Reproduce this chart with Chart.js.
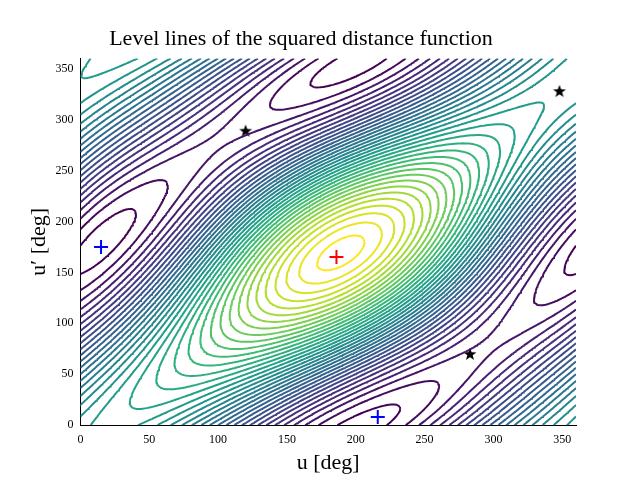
<!DOCTYPE html>
<html><head><meta charset="utf-8">
<script src="https://cdn.jsdelivr.net/npm/chart.js@4/dist/chart.umd.min.js"></script>
<style>body{margin:0;background:#fff}#wrap{width:640px;height:480px}</style>
</head><body><div id="wrap"><canvas id="c"></canvas></div>
<script>
// field parameters (ridge along u - u' = 20 deg, peak near (185,165),
// valleys around the blue crosses, saddles at the stars)
const fieldAmp = [1, 0.33, 0.33, 0.12];
const fieldPhase = [20, 185, 165, 10];
const levelCount = 36;
const maxPoint = [[186, 165]];
const minPoints = [[15, 175], [216, 8]];
const saddlePoints = [[120, 289], [283, 70], [348, 328]];
const xTicks = [0, 50, 100, 150, 200, 250, 300, 350];

const rad = Math.PI / 180;
function f(u, v) {
  return fieldAmp[0] * Math.cos((u - v - fieldPhase[0]) * rad) +
    fieldAmp[1] * Math.cos((u - fieldPhase[1]) * rad) +
    fieldAmp[2] * Math.cos((v - fieldPhase[2]) * rad) +
    fieldAmp[3] * Math.cos((u + v - fieldPhase[3]) * rad);
}
const viridis = [[68,1,84],[72,40,120],[62,74,137],[49,104,142],[38,130,142],[31,158,137],[53,183,121],[109,205,89],[180,222,44],[253,231,37]];
function vcol(t) {
  const p = t * (viridis.length - 1), i = Math.min(Math.floor(p), viridis.length - 2), r = p - i;
  const c = viridis[i].map((a, k) => Math.round(a + (viridis[i + 1][k] - a) * r));
  return `rgb(${c})`;
}
const N = 180, step = 360 / N;
const grid = [];
for (let i = 0; i <= N; i++) { grid.push([]); for (let j = 0; j <= N; j++) grid[i].push(f(i * step, j * step)); }
let lo = Infinity, hi = -Infinity;
grid.forEach(r => r.forEach(v => { lo = Math.min(lo, v); hi = Math.max(hi, v); }));
const gap = () => ({ x: NaN, y: NaN });
const datasets = [];
for (let l = 0; l < levelCount; l++) {
  const lev = lo + (hi - lo) * (l + 0.5) / levelCount;
  const pts = [];
  for (let i = 0; i < N; i++) for (let j = 0; j < N; j++) {
    const c = [[i, j], [i + 1, j], [i + 1, j + 1], [i, j + 1]];
    const cr = [];
    for (let k = 0; k < 4; k++) {
      const a = c[k], b = c[(k + 1) % 4];
      const va = grid[a[0]][a[1]] - lev, vb = grid[b[0]][b[1]] - lev;
      if ((va < 0) !== (vb < 0)) {
        const t = va / (va - vb);
        cr.push({ x: (a[0] + (b[0] - a[0]) * t) * step, y: (a[1] + (b[1] - a[1]) * t) * step });
      }
    }
    if (cr.length === 2) pts.push(cr[0], cr[1], gap());
    else if (cr.length === 4) pts.push(cr[0], cr[1], gap(), cr[2], cr[3], gap());
  }
  datasets.push({ data: pts, borderColor: vcol(l / (levelCount - 1)), borderWidth: 2, pointRadius: 0, spanGaps: false, tension: 0 });
}
const starImg = document.createElement('canvas');
starImg.width = starImg.height = 14;
{ const g = starImg.getContext('2d'); g.fillStyle = '#000'; g.beginPath();
  for (let k = 0; k < 10; k++) { const r = k % 2 ? 2.8 : 6.8, a = -Math.PI / 2 + k * Math.PI / 5; g.lineTo(7 + r * Math.cos(a), 7.5 + r * Math.sin(a)); }
  g.closePath(); g.fill(); }
const toPts = a => a.map(p => ({ x: p[0], y: p[1] }));
datasets.push({ data: toPts(maxPoint), showLine: false, pointStyle: 'cross', pointRadius: 7, borderColor: '#ff0000', borderWidth: 2 });
datasets.push({ data: toPts(minPoints), showLine: false, pointStyle: 'cross', pointRadius: 7, borderColor: '#0000ff', borderWidth: 2 });
datasets.push({ data: toPts(saddlePoints), showLine: false, pointStyle: starImg, pointRadius: 7 });

new Chart(document.getElementById('c'), {
  type: 'line',
  data: { datasets },
  options: {
    responsive: true, maintainAspectRatio: false, animation: false,
    layout: { padding: { left: 26, right: 64, top: 26, bottom: 4 } },
    plugins: {
      legend: { display: false }, tooltip: { enabled: false },
      title: { display: true, text: 'Level lines of the squared distance function', color: '#000', font: { family: 'Liberation Serif', size: 22, weight: 'normal' }, padding: { bottom: 6 } }
    },
    scales: {
      x: { type: 'linear', min: 0, max: 360, grid: { display: false, drawTicks: true, tickLength: 4 }, border: { color: '#000' },
        afterBuildTicks: ax => { ax.ticks = xTicks.map(v => ({ value: v })); },
        ticks: { color: '#000', font: { family: 'Liberation Serif', size: 12 } },
        title: { display: true, text: 'u [deg]', color: '#000', font: { family: 'Liberation Serif', size: 22 }, padding: 0 } },
      y: { type: 'linear', min: 0, max: 360, grid: { display: false, tickLength: 4 }, border: { color: '#000' },
        afterBuildTicks: ax => { ax.ticks = xTicks.map(v => ({ value: v })); },
        ticks: { color: '#000', font: { family: 'Liberation Serif', size: 12 } },
        title: { display: true, text: "u′ [deg]", color: '#000', font: { family: 'Liberation Serif', size: 22 }, padding: 0 } }
    }
  }
});
</script></body></html>
